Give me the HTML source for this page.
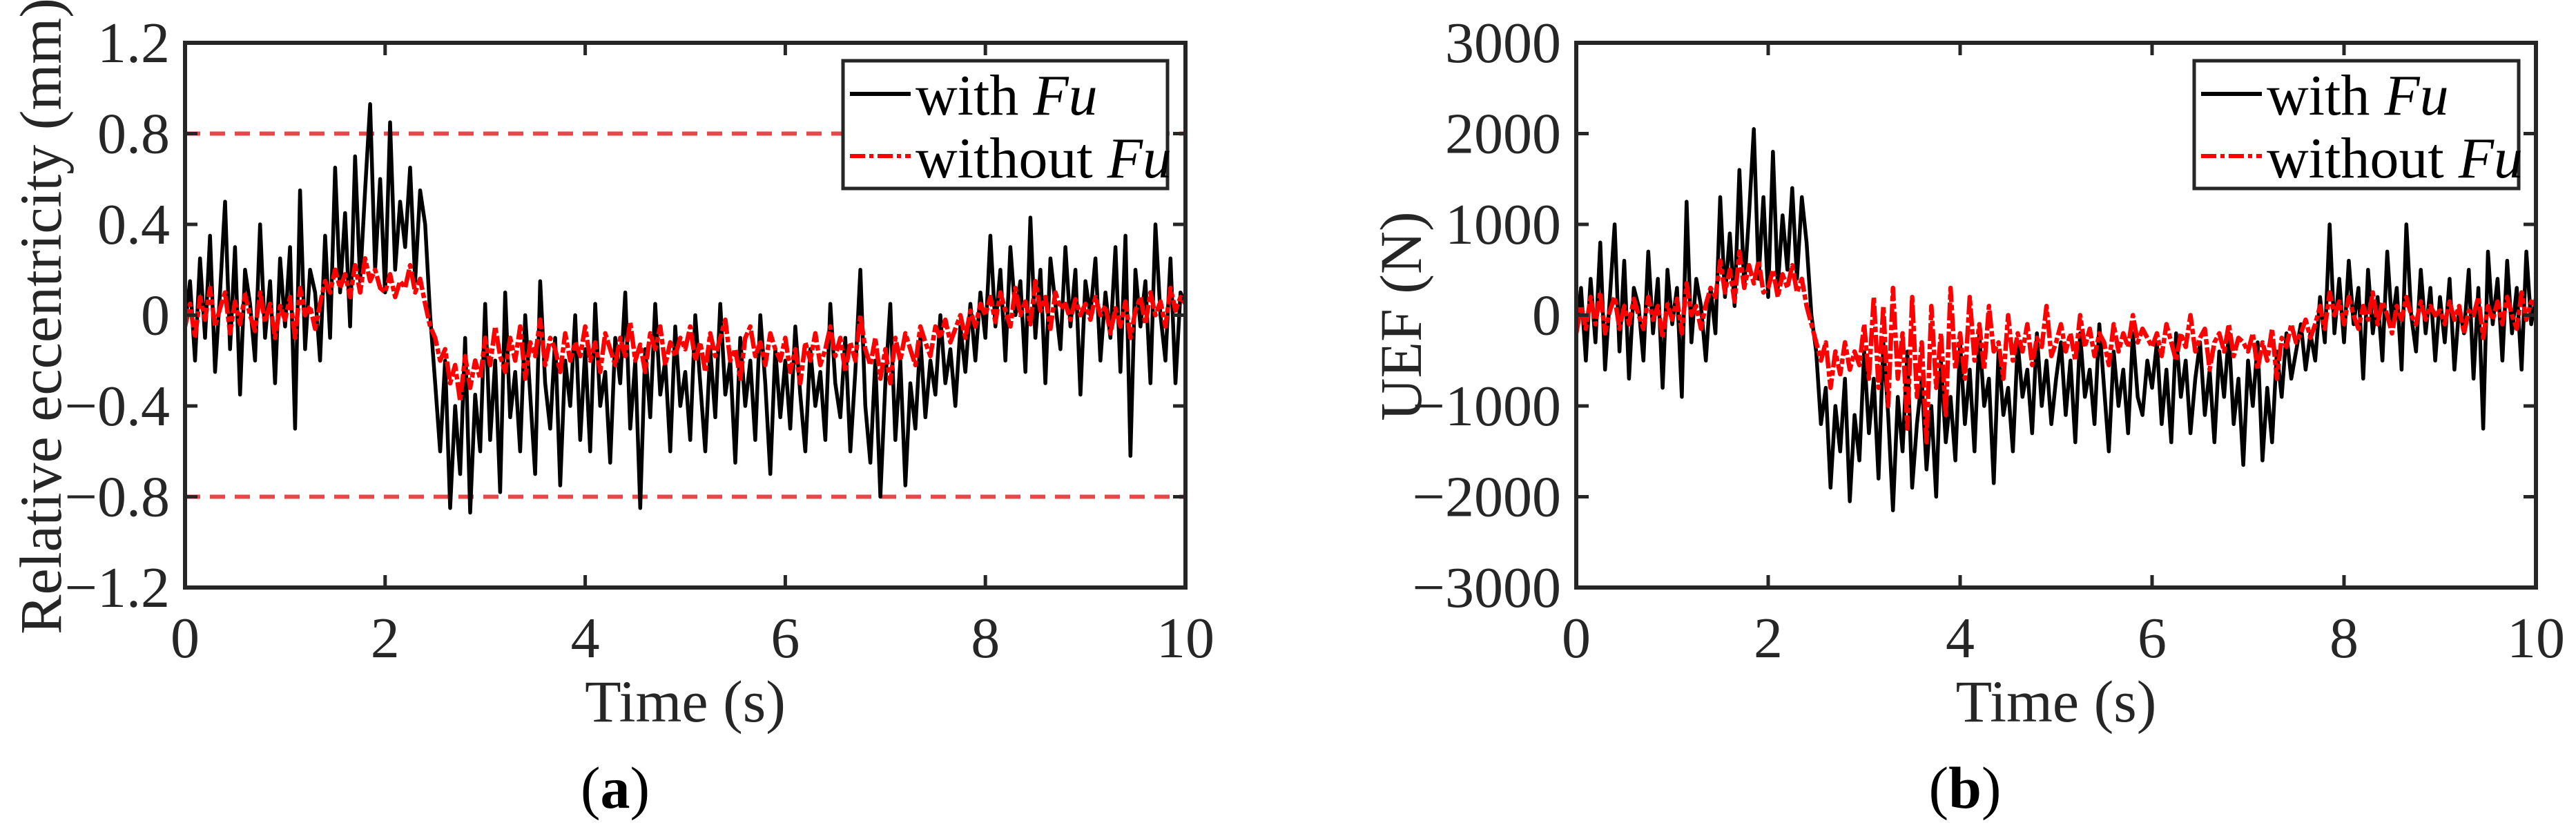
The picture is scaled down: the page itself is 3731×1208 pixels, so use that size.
<!DOCTYPE html>
<html><head><meta charset="utf-8"><style>
html,body{margin:0;padding:0;background:#fff;}
svg{display:block;font-family:"Liberation Serif",serif;}
</style></head><body>
<svg id="fig" width="3731" height="1208" viewBox="0 0 3731 1208" xmlns="http://www.w3.org/2000/svg">
<rect width="3731" height="1208" fill="#fff"/>
</svg>
<script>
// ---- data ----
var timeStart = 0, timeEnd = 10;
var xTicks = [0, 2, 4, 6, 8, 10];
var aYTicks = [-1.2, -0.8, -0.4, 0, 0.4, 0.8, 1.2];
var aYTickLabels = ["\u22121.2", "\u22120.8", "\u22120.4", "0", "0.4", "0.8", "1.2"];
var bYTicks = [-3000, -2000, -1000, 0, 1000, 2000, 3000];
var bYTickLabels = ["\u22123000", "\u22122000", "\u22121000", "0", "1000", "2000", "3000"];
var aLimits = [0.8, -0.8];
var aBlack = [
-0.05,0.15,-0.2,0.25,-0.1,0.35,-0.25,0.1,0.5,-0.15,0.3,-0.35,0.2,0.05,-0.2,0.4,-0.1,0.15,-0.3,0.25,
-0.05,0.3,-0.5,0.55,-0.15,0.2,0.1,-0.2,0.35,-0.1,0.65,0.1,0.45,-0.05,0.7,0.15,0.55,0.93,0.2,0.6,
0.1,0.85,0.2,0.5,0.3,0.65,0.15,0.55,0.4,0.0,-0.3,-0.6,-0.2,-0.85,-0.4,-0.7,-0.1,-0.87,-0.35,-0.6,
0.05,-0.55,-0.2,-0.78,0.1,-0.45,-0.25,-0.6,0.0,-0.35,-0.7,0.15,-0.3,-0.5,-0.1,-0.75,-0.2,-0.4,0.0,-0.55,
-0.15,-0.6,0.05,-0.4,-0.25,-0.65,-0.1,-0.3,0.1,-0.5,-0.2,-0.85,-0.15,-0.45,0.05,-0.35,-0.2,-0.6,-0.05,-0.4,
-0.25,-0.55,0.0,-0.3,-0.6,-0.15,-0.45,0.05,-0.35,-0.2,-0.65,-0.1,-0.4,-0.2,-0.55,0.0,-0.3,-0.7,-0.15,-0.45,
-0.2,-0.5,-0.05,-0.35,-0.6,-0.15,-0.4,-0.25,-0.55,0.05,-0.3,-0.45,-0.1,-0.6,-0.25,0.2,-0.4,-0.65,-0.2,-0.8,
-0.3,0.05,-0.55,-0.2,-0.75,-0.3,-0.5,-0.1,-0.45,-0.2,-0.35,0.0,-0.3,-0.15,-0.4,-0.05,-0.25,0.05,-0.2,0.1,
-0.1,0.35,-0.05,0.2,-0.2,0.3,0.0,0.15,-0.25,0.43,-0.1,0.2,-0.3,0.25,0.05,-0.15,0.3,-0.05,0.2,-0.35,
0.15,0.0,0.25,-0.2,0.1,-0.1,0.3,-0.25,0.35,-0.62,0.2,-0.05,0.15,-0.3,0.4,0.0,-0.2,0.25,-0.3,0.1,0.05];
var aRed = [
-0.05,0.05,-0.1,0.08,-0.02,0.12,-0.05,0.03,0.1,-0.08,0.06,-0.04,0.09,0.0,-0.07,0.1,-0.03,0.05,-0.1,0.04,
-0.02,0.08,-0.1,0.12,0.0,0.04,-0.06,0.05,0.15,0.1,0.2,0.12,0.18,0.08,0.22,0.1,0.25,0.15,0.2,0.12,
0.1,0.18,0.08,0.15,0.12,0.22,0.1,0.16,0.05,-0.05,-0.1,-0.2,-0.15,-0.3,-0.22,-0.38,-0.18,-0.32,-0.2,-0.28,
-0.1,-0.22,-0.05,-0.18,-0.25,-0.1,-0.2,-0.05,-0.28,-0.12,-0.18,-0.02,-0.22,-0.1,-0.15,-0.25,-0.08,-0.2,-0.12,-0.18,
-0.05,-0.2,-0.12,-0.25,-0.08,-0.15,-0.22,-0.1,-0.18,-0.03,-0.2,-0.13,-0.25,-0.08,-0.15,-0.05,-0.22,-0.12,-0.18,-0.1,
-0.15,-0.05,-0.2,-0.12,-0.25,-0.08,-0.18,-0.1,-0.02,-0.2,-0.15,-0.28,-0.1,-0.05,-0.18,-0.12,-0.22,-0.08,-0.15,-0.2,
-0.1,-0.25,-0.15,-0.3,-0.12,-0.2,-0.08,-0.22,-0.15,-0.05,-0.18,-0.1,-0.25,-0.12,-0.2,0.0,-0.15,-0.22,-0.1,-0.28,
-0.15,-0.3,-0.1,-0.2,-0.08,-0.15,-0.22,-0.05,-0.12,-0.18,-0.05,-0.1,-0.02,-0.12,-0.06,0.0,-0.1,0.02,-0.05,0.05,
0.0,0.08,-0.03,0.1,0.02,-0.05,0.12,0.0,0.06,-0.04,0.15,0.02,0.08,-0.06,0.1,0.03,0.05,-0.02,0.07,0.0,
0.05,-0.02,0.08,0.0,0.04,-0.08,0.03,-0.05,0.06,-0.1,0.02,0.08,-0.04,0.1,0.0,0.06,-0.05,0.12,0.02,0.08,0.05];
var bBlack = [
-200,300,-500,400,-300,800,-600,200,1000,-400,600,-700,300,100,-500,700,-200,400,-800,500,
-100,300,-900,1250,-300,400,100,-500,300,-200,1300,200,900,100,1600,300,1100,2050,400,1300,
200,1800,300,1100,500,1400,400,1300,800,0,-400,-1200,-800,-1900,-1000,-1500,-700,-2050,-1100,-1600,
-400,-1300,-700,-1800,-300,-1100,-2150,-900,-1500,-400,-1900,-1200,-700,-1700,-1000,-2000,-500,-1400,-900,-1600,
-300,-1200,-600,-1500,-200,-1000,-700,-1850,-400,-1100,-800,-1500,-300,-900,-600,-1300,-200,-1000,-500,-1200,
-700,-300,-1100,-500,-1400,-200,-900,-600,-1200,-100,-800,-1500,-400,-1000,-600,-1300,-200,-900,-1100,-500,
-800,-300,-1200,-600,-1400,-200,-900,-500,-1300,-700,-300,-1100,-600,-1400,-400,-900,-200,-1200,-700,-1650,
-500,-1000,-300,-1600,-800,-1400,-400,-900,-200,-700,-400,-100,-600,-200,-500,200,-300,1000,-200,400,
-300,600,-100,300,-700,500,-200,200,-500,700,-100,300,-600,1000,0,-400,500,-200,300,-500,
200,-300,400,-600,100,-200,500,-700,300,-1250,700,-100,400,-500,600,-200,300,-600,700,-100,200];
var bRed = [
-200,100,-150,200,-100,250,-200,50,200,-150,100,-100,180,0,-150,200,-50,100,-250,120,
-50,180,-200,350,0,100,-150,120,300,200,600,250,500,150,700,300,550,350,600,250,
300,500,200,450,300,550,250,400,100,-100,-300,-500,-300,-800,-400,-650,-300,-600,-400,-550,
-100,-700,200,-800,100,-1000,300,-700,-200,-1250,200,-900,-300,-1400,100,-800,-200,-1100,300,-600,
-200,-700,200,-500,-100,-600,100,-400,-300,-700,0,-500,-200,-400,-100,-550,-250,-350,100,-450,
-300,-100,-400,-200,-500,0,-350,-150,-450,-200,-300,-550,-100,-400,-200,-350,0,-300,-150,-250,
-350,-200,-450,-100,-300,-500,-200,-350,0,-400,-250,-150,-600,-300,-200,-400,-100,-450,-250,-300,
-400,-200,-600,-300,-500,-150,-700,-250,-350,-100,-300,-200,-50,-250,-100,100,-150,250,0,150,
-100,200,0,-150,100,-50,250,-100,150,0,-200,100,-50,200,0,-100,150,-50,100,0,
50,-100,150,-50,100,-200,50,0,200,-250,100,-50,150,-100,200,0,-150,250,-50,150,100];

var NS = "http://www.w3.org/2000/svg";
var svg = document.getElementById("fig");
function mk(tag, attrs, parent) {
  var e = document.createElementNS(NS, tag);
  for (var k in attrs) e.setAttribute(k, attrs[k]);
  (parent || svg).appendChild(e);
  return e;
}

function panel(cfg) {
  var g = mk("g", {});
  
  
  var L = cfg.left, R = cfg.right, T = 62, B = 851;
  var ymin = cfg.yTicks[0], ymax = cfg.yTicks[cfg.yTicks.length - 1];
  function xs(t) { return L + (t - timeStart) / (timeEnd - timeStart) * (R - L); }
  function ys(v) { return B - (v - ymin) / (ymax - ymin) * (B - T); }
  var clipId = cfg.name + "-clip";
  var defs = mk("defs", {}, g);
  var cp = mk("clipPath", { id: clipId }, defs);
  mk("rect", { x: L, y: T, width: R - L, height: B - T }, cp);

  if (cfg.limits) {
    cfg.limits.forEach(function (v) {
      var ln = mk("line", { x1: L, x2: R, y1: ys(v), y2: ys(v), stroke: "#e8474a", "stroke-width": 6, "stroke-dasharray": "22 14" }, g);
      
      
    });
  }
  function series(arr, color, dash, width, nm) {
    var dt = (timeEnd - timeStart) / (arr.length - 1);
    var d = arr.map(function (v, i) { return (i ? "L" : "M") + xs(timeStart + i * dt).toFixed(1) + "," + ys(v).toFixed(1); }).join("");
    var p = mk("path", { d: d, fill: "none", stroke: color, "stroke-width": width, "stroke-linejoin": "round", "clip-path": "url(#" + clipId + ")" }, g);
    if (dash) p.setAttribute("stroke-dasharray", dash);
    
    
  }
  series(cfg.black, "#000", null, 5.5, "series-with-fu");
  series(cfg.red, "#ff0000", "26 4 8 4", 6.5, "series-without-fu");

  cfg.yTicks.forEach(function (v, i) {
    var y = ys(v);
    mk("line", { x1: L, x2: L + 18, y1: y, y2: y, stroke: "#262626", "stroke-width": 5 }, g);
    mk("line", { x1: R, x2: R - 18, y1: y, y2: y, stroke: "#262626", "stroke-width": 5 }, g);
    var t = mk("text", { x: L - 22, y: y + 28, "text-anchor": "end", "font-size": 84, fill: "#262626" }, g);
    t.textContent = cfg.yLabels[i];
    
    
  });
  xTicks.forEach(function (v) {
    var x = xs(v);
    mk("line", { x1: x, x2: x, y1: B, y2: B - 18, stroke: "#262626", "stroke-width": 5 }, g);
    mk("line", { x1: x, x2: x, y1: T, y2: T + 18, stroke: "#262626", "stroke-width": 5 }, g);
    var t = mk("text", { x: x, y: 952, "text-anchor": "middle", "font-size": 84, fill: "#262626" }, g);
    t.textContent = String(v);
    
    
  });
  var box = mk("rect", { x: L, y: T, width: R - L, height: B - T, fill: "none", stroke: "#262626", "stroke-width": 6 }, g);
  
  

  var xl = mk("text", { x: (L + R) / 2, y: 1045, "text-anchor": "middle", "font-size": 86, fill: "#262626" }, g);
  xl.textContent = "Time (s)";
  
  
  var yl = mk("text", { x: cfg.yLabelX, y: 458, "text-anchor": "middle", "font-size": 86, fill: "#262626", transform: "rotate(-90 " + cfg.yLabelX + " 458)" }, g);
  yl.textContent = cfg.yTitle;
  
  

  var lg = mk("g", {}, g);
  
  
  var lr = cfg.legendRight, ll = lr - 470;
  mk("rect", { x: ll, y: 88, width: 470, height: 185, fill: "#fff", stroke: "#262626", "stroke-width": 5 }, lg);
  mk("line", { x1: ll + 10, x2: ll + 98, y1: 136, y2: 136, stroke: "#000", "stroke-width": 6 }, lg);
  mk("line", { x1: ll + 10, x2: ll + 98, y1: 226, y2: 226, stroke: "#ff0000", "stroke-width": 6, "stroke-dasharray": "22 6 6 6" }, lg);
  var t1 = mk("text", { x: ll + 105, y: 166, "font-size": 84, fill: "#000" }, lg);
  t1.innerHTML = 'with <tspan font-style="italic">Fu</tspan>';
  
  
  var t2 = mk("text", { x: ll + 105, y: 257, "font-size": 84, fill: "#000" }, lg);
  t2.innerHTML = 'without <tspan font-style="italic">Fu</tspan>';
  
  

  var cap = mk("text", { x: cfg.capX, y: 1170, "text-anchor": "middle", "font-size": 86, fill: "#000" }, g);
  cap.innerHTML = '(<tspan font-weight="bold">' + cfg.cap + '</tspan>)';
  
  
}

panel({ name: "panel-a", left: 268, right: 1717, yTicks: aYTicks, yLabels: aYTickLabels, black: aBlack, red: aRed, limits: aLimits,
  yTitle: "Relative eccentricity (mm)", yLabelX: 88, legendRight: 1691, capX: 891, cap: "a" });
panel({ name: "panel-b", left: 2283, right: 3673, yTicks: bYTicks, yLabels: bYTickLabels, black: bBlack, red: bRed, limits: null,
  yTitle: "UEF (N)", yLabelX: 2058, legendRight: 3648, capX: 2846, cap: "b" });
</script>
</body></html>
